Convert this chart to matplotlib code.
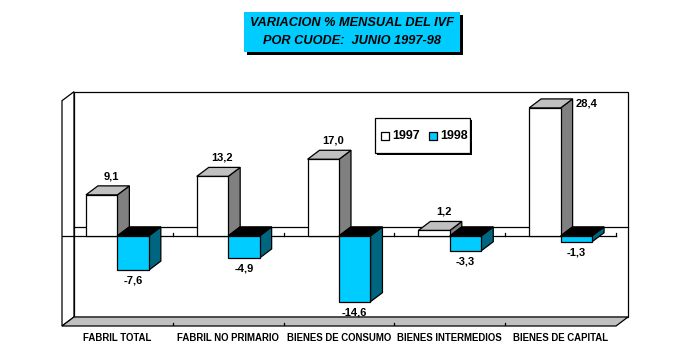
import matplotlib.pyplot as plt
from matplotlib.patches import Polygon, Rectangle

plt.rcParams['font.family'] = ['Liberation Sans', 'DejaVu Sans']

categories = ['FABRIL TOTAL', 'FABRIL NO PRIMARIO', 'BIENES DE CONSUMO',
              'BIENES INTERMEDIOS', 'BIENES DE CAPITAL']
v1997 = [9.1, 13.2, 17.0, 1.2, 28.4]
v1998 = [-7.6, -4.9, -14.6, -3.3, -1.3]
series_names = ['1997', '1998']

CYAN = '#00CCFF'
TEAL = '#006680'
LGRAY = '#C0C0C0'
DGRAY = '#808080'

ymin, ymax = -20, 30
dx, dy = 0.108, 2.0   # depth offset in data units
w = 0.284             # bar width

fig = plt.figure(figsize=(6.89, 3.6), dpi=100)
ax = fig.add_axes([62 / 689, 1 - 326 / 360, (628 - 62) / 689, (326 - 91.7) / 360])
ax.set_xlim(0, 5 + dx)
ax.set_ylim(ymin, ymax + dy)
ax.axis('off')
n = len(categories)

def poly(pts, fc, z=2):
    ax.add_patch(Polygon(pts, closed=True, facecolor=fc, edgecolor='black',
                         lw=0.9, zorder=z, joinstyle='miter', clip_on=False))

# walls and floor
poly([(dx, ymin + dy), (n + dx, ymin + dy), (n + dx, ymax + dy), (dx, ymax + dy)], 'white', 1)
poly([(0, ymin), (dx, ymin + dy), (dx, ymax + dy), (0, ymax)], 'white', 1)
poly([(0, ymin), (n, ymin), (n + dx, ymin + dy), (dx, ymin + dy)], LGRAY, 1)

# zero lines
ax.plot([dx, n + dx], [dy, dy], color='black', lw=0.9, zorder=1.5, clip_on=False)
ax.plot([0, n], [0, 0], color='black', lw=0.9, zorder=1.5)
for k in range(1, n + 1):
    ax.plot([k, k], [0, 0.7], color='black', lw=0.9, zorder=1.5)
for k in range(1, n):
    ax.plot([k, k], [ymin, ymin + 0.7], color='black', lw=0.9, zorder=1.5)

def bar3d(x1, v, front, top, side):
    x2 = x1 + w
    if v >= 0:
        poly([(x2, 0), (x2, v), (x2 + dx, v + dy), (x2 + dx, dy)], side)
        poly([(x1, v), (x2, v), (x2 + dx, v + dy), (x1 + dx, v + dy)], top)
        poly([(x1, 0), (x2, 0), (x2, v), (x1, v)], front)
    else:
        poly([(x2, v), (x2, 0), (x2 + dx, dy), (x2 + dx, v + dy)], side)
        poly([(x1, 0), (x2, 0), (x2 + dx, dy), (x1 + dx, dy)], top)
        poly([(x1, v), (x2, v), (x2, 0), (x1, 0)], front)

def fmt(v):
    return f'{v:.1f}'.replace('.', ',')

for i in range(n):
    c = i + 0.5
    bar3d(c - w, v1997[i], 'white', LGRAY, DGRAY)
    bar3d(c, v1998[i], CYAN, 'black', TEAL)
    a = v1997[i]
    if a + dy + 3 > ymax:
        ax.text(c + dx + 0.03, a + dy - 1.0, fmt(a), ha='left', va='center',
                fontsize=8, fontweight='bold', zorder=5)
    else:
        ax.text(c - w / 2 + dx * 0.8, a + dy + 1.0, fmt(a), ha='center', va='bottom',
                fontsize=8, fontweight='bold', zorder=5)
    b = v1998[i]
    ax.text(c + w / 2, b - 1.2, fmt(b), ha='center', va='top',
            fontsize=8, fontweight='bold', zorder=5)
    ax.text(c, ymin - 2.6, categories[i], ha='center', va='center',
            fontsize=6.9, fontweight='bold', clip_on=False)

# legend
lx0, lx1, ly0, ly1 = 375 / 689, 470 / 689, 1 - 152.7 / 360, 1 - 118 / 360
fig.patches.append(Rectangle((lx0 + 2 / 689, ly0 - 2 / 360), lx1 - lx0, ly1 - ly0,
                             transform=fig.transFigure, facecolor='black', edgecolor='none', zorder=5))
fig.patches.append(Rectangle((lx0, ly0), lx1 - lx0, ly1 - ly0, transform=fig.transFigure,
                             facecolor='white', edgecolor='black', lw=0.9, zorder=6))
for j, (name, col) in enumerate(zip(series_names, ['white', CYAN])):
    sx = (381 + j * 48) / 689
    sy = 1 - 140 / 360
    fig.patches.append(Rectangle((sx, sy), 8 / 689, 8 / 360, transform=fig.transFigure,
                                 facecolor=col, edgecolor='black', lw=0.9, zorder=7))
    fig.text(sx + 11 / 689, sy + 4 / 360, name, ha='left', va='center',
             fontsize=9, fontweight='bold', zorder=8)

# title box
tx0, tx1, ty0, ty1 = 243.5 / 689, 460 / 689, 1 - 51.7 / 360, 1 - 11.7 / 360
fig.patches.append(Rectangle((tx0 + 3 / 689, ty0 - 3 / 360), tx1 - tx0, ty1 - ty0,
                             transform=fig.transFigure, facecolor='black', edgecolor='none', zorder=5))
fig.patches.append(Rectangle((tx0, ty0), tx1 - tx0, ty1 - ty0, transform=fig.transFigure,
                             facecolor=CYAN, edgecolor='none', zorder=6))
fig.text((tx0 + tx1) / 2, 1 - 22.5 / 360, 'VARIACION % MENSUAL DEL IVF', ha='center', va='center',
         fontsize=9.2, fontweight='bold', fontstyle='italic', zorder=8)
fig.text((tx0 + tx1) / 2, 1 - 40.5 / 360, 'POR CUODE:  JUNIO 1997-98', ha='center', va='center',
         fontsize=9.2, fontweight='bold', fontstyle='italic', zorder=8)

fig.savefig('out.png', dpi=100)
